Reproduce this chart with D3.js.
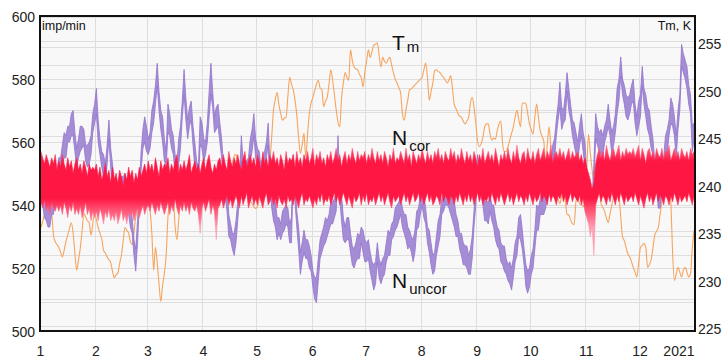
<!DOCTYPE html>
<html><head><meta charset="utf-8">
<script src="https://cdn.jsdelivr.net/npm/d3@7"></script>
<style>body{margin:0;background:#fff}svg{display:block}text{font-family:"Liberation Sans",Arial,sans-serif}</style>
</head><body><svg id="c" width="722" height="358"></svg>
<script>
// ---- data: daily values, 1 Jan 2020 .. 31 Dec 2020 ----
const monthLabels = ["1","2","3","4","5","6","7","8","9","10","11","12","2021"];
const leftTicks = [500,520,540,560,580,600];
const rightTicks = [225,230,235,240,245,250,255];

// N uncor (imp/min): daily maximum and minimum
const uncorMax = [
547,546,542,541,541,540,542,542,548,551, 555,555,559,563,562,565,565,569,570,563,
558,561,565,565,564,559,559,560,562,569, 572,577,567,561,557,556,553,559,567,558,
553,548,548,546,549,549,549,550,545,543, 540,536,529,526,535,546,557,564,568,565,
561,563,570,573,578,585,576,570,568,561, 557,572,569,564,562,556,553,561,565,573,
583,574,567,571,573,565,560,554,552,568, 566,561,560,566,576,585,576,568,571,572,
566,561,553,549,546,537,534,531,531,535, 541,549,562,554,549,554,555,561,564,569,
561,558,557,552,556,557,560,566,553,546, 541,541,536,536,534,538,539,540,539,534,
536,556,547,538,533,525,528,532,529,529, 527,524,519,517,517,523,529,531,533,536,
535,537,541,541,542,544,562,548,543,536, 533,536,536,531,527,526,528,531,530,533,
532,529,528,529,525,522,521,522,528,523, 521,523,524,528,532,531,534,535,539,540,
541,543,539,537,537,533,532,530,529,532, 538,539,543,548,543,539,533,532,528,524,
525,530,535,537,542,543,547,547,545,544, 541,541,537,535,531,531,528,527,527,524,
526,530,538,545,556,552,549,546,541,541, 541,543,540,540,536,533,532,528,527,527,
523,521,522,520,523,528,530,536,537,532, 526,521,519,520,524,526,532,540,539,542,
544,544,545,548,549,552,559,561,567,572, 579,571,570,575,582,577,572,567,566,563,
560,565,569,563,560,550,545,542,542,553, 569,565,563,564,562,565,567,572,567,563,
565,569,577,580,587,580,578,575,574,575, 578,580,572,568,573,575,584,577,575,571,
570,565,561,554,552,547,544,551,555,562, 564,567,574,572,568,562,570,575,591,588,
586,584,578,575,565,566];
const uncorMin = [
541,540,536,535,533,533,537,537,541,544, 549,549,553,555,555,560,560,562,562,557,
552,555,557,558,559,554,552,553,556,563, 566,569,560,556,552,549,546,553,561,552,
545,541,543,541,542,542,543,544,539,537, 533,531,524,519,528,540,551,558,560,557,
556,558,563,566,572,578,570,564,560,554, 552,563,562,558,556,550,547,553,558,568,
575,567,561,565,567,559,552,547,547,559, 558,554,556,560,568,575,571,563,564,565,
560,555,547,543,538,530,529,526,524,528, 535,543,554,546,542,549,550,554,557,562,
555,552,549,545,550,551,555,559,546,539, 535,533,529,531,529,531,532,534,533,528,
528,549,541,533,526,518,522,525,523,523, 520,519,514,510,509,516,523,525,527,528,
530,532,534,534,536,538,553,542,535,529, 528,529,529,525,521,520,522,523,523,528,
525,522,522,523,519,516,513,515,522,517, 515,517,518,522,524,524,529,530,532,533,
535,537,533,531,529,526,527,525,522,525, 532,533,537,540,536,534,528,525,521,518,
519,524,527,530,537,538,540,540,539,537, 535,533,530,530,526,524,521,521,520,518,
518,523,533,540,549,545,543,540,535,535, 534,538,535,533,529,527,526,522,521,519,
518,516,515,513,517,522,524,530,529,526, 521,514,512,514,518,520,526,532,532,537,
537,537,539,542,543,546,551,554,562,567, 571,564,566,567,576,570,567,562,559,556,
554,559,562,557,552,543,540,537,535,546, 561,559,557,556,555,560,562,565,562,556,
559,563,569,573,581,575,572,568,567,569, 572,573,566,562,565,568,578,572,568,564,
562,558,556,549,545,539,539,544,550,556, 557,562,566,565,562,555,564,570,584,582,
580,577,572,569,557,561];

// N cor (imp/min): daily maximum and minimum
const corMax = [
557,555,553,556,554,552,555,553,556,551, 554,552,556,553,551,555,552,554,550,553,
555,551,553,550,554,552,549,553,551,552, 551,553,549,552,548,550,553,549,551,547,
552,548,550,547,551,549,546,550,548,552, 549,551,547,550,548,552,549,551,553,550,
554,551,553,550,555,552,549,554,551,553, 552,555,550,553,551,554,556,550,553,551,
554,551,553,556,550,552,554,551,553,550, 553,555,551,554,556,552,550,553,551,554,
555,552,556,553,551,557,554,552,555,553, 556,553,551,555,557,552,554,556,553,555,
552,556,554,551,557,553,555,552,556,554, 557,553,555,552,556,554,551,557,553,555,
554,556,552,557,553,555,552,556,554,557, 553,555,558,552,556,554,557,553,555,552,
556,554,557,553,555,558,554,556,552,555, 557,553,556,554,558,555,553,557,554,556,
555,557,553,556,554,558,555,553,557,554, 556,553,557,555,552,556,554,558,553,555,
554,557,555,553,558,554,556,552,557,555, 553,556,554,558,555,553,557,554,556,553,
557,555,558,554,556,553,557,555,554,558, 555,557,553,556,554,558,555,553,557,554,
556,553,557,555,552,556,554,558,553,555, 557,554,556,553,558,555,552,556,554,557,
554,558,555,553,557,554,559,555,553,556, 557,553,558,555,554,557,553,556,558,554,
556,558,554,557,555,559,553,556,557,555, 558,555,557,554,556,558,554,557,555,556,
557,554,556,553,555,552,550,548,545,547, 553,556,558,555,557,554,559,556,554,557,
558,555,557,559,554,557,555,558,556,557, 556,558,555,557,559,554,558,556,553,557,
558,555,557,554,558,556,555,558,554,557, 557,559,554,556,558,555,557,554,558,556,
555,557,554,558,556,557];
const corMin = [
541,539,542,538,540,537,541,539,538,540, 538,540,537,541,539,536,540,538,541,537,
539,537,540,536,538,541,537,539,535,538, 536,538,535,539,537,534,538,536,539,535,
537,535,538,534,536,539,535,537,534,538, 536,538,535,537,539,536,538,540,537,539,
540,538,541,539,537,540,538,541,539,537, 539,541,537,540,538,542,539,537,540,538,
541,538,540,537,541,539,538,540,537,531, 539,541,538,540,542,537,540,538,529,539,
540,542,539,541,543,540,542,539,541,543, 541,539,543,540,542,544,539,541,543,540,
542,540,543,541,539,542,544,540,541,543, 540,542,539,543,541,540,542,539,543,541,
542,540,543,541,539,542,544,540,542,541, 543,541,539,542,540,543,541,544,540,542,
541,543,540,542,544,541,543,540,542,544, 542,540,543,541,539,543,541,542,544,540,
543,541,544,540,542,541,543,540,542,544, 541,543,540,542,544,541,539,543,541,542,
543,540,542,544,541,543,540,542,544,541, 542,544,541,543,540,542,544,541,543,540,
541,543,542,540,544,541,543,542,540,543, 542,540,543,541,544,542,540,543,541,544,
541,543,540,542,544,541,543,540,542,541, 543,541,544,542,540,543,541,544,542,540,
542,544,541,543,540,542,544,541,543,542, 540,543,541,544,542,540,543,541,542,544,
541,543,542,540,544,541,543,542,540,543, 542,544,541,543,540,542,544,541,543,542,
541,543,540,542,538,536,534,530,533,524, 540,542,544,541,543,542,540,543,541,544,
542,540,543,541,544,542,540,543,541,542, 543,541,544,542,540,543,541,539,542,544,
541,543,540,542,544,541,543,542,540,543, 542,540,543,541,544,542,540,543,541,542,
543,541,544,542,540,543];

// Tm (K): daily values
const tm = [
235.4,236.0,236.8,237.4,237.2,236.6,236.9,234.6,233.9,233.6, 233.3,232.8,232.3,233.0,233.9,234.6,235.3,235.9,234.8,232.7,
230.9,232.0,233.2,235.0,236.9,236.5,236.1,235.9,234.6,235.8, 236.9,236.2,235.4,234.8,234.2,233.0,232.7,232.3,232.0,231.7,
230.8,230.1,230.4,230.6,231.6,232.5,234.0,235.4,235.1,234.8, 233.9,233.6,234.8,236.5,237.0,237.4,237.8,238.2,239.0,238.7,
238.6,237.2,234.8,230.9,233.3,231.7,229.5,227.6,229.3,230.6, 232.5,236.5,238.0,238.4,238.3,235.5,234.1,236.2,238.2,238.5,
238.6,238.8,239.3,239.9,240.6,241.8,240.4,241.2,240.8,240.6, 240.1,239.9,240.5,240.9,241.3,240.9,240.2,240.4,240.0,239.6,
239.3,240.1,240.6,240.9,241.2,241.0,241.4,242.2,242.9,243.1, 242.0,241.4,240.8,240.3,239.7,239.2,238.8,238.3,237.9,237.6,
237.4,237.6,238.3,239.0,239.3,240.0,240.9,241.6,242.5,245.0, 247.8,248.9,249.6,248.3,247.4,246.7,246.9,247.0,249.2,251.2,
250.5,249.9,248.8,247.2,244.9,243.2,244.1,245.3,242.8,245.2, 247.4,248.5,249.1,249.8,250.5,250.9,250.1,249.9,248.1,248.7,
249.1,250.5,252.0,250.9,249.4,247.8,246.5,246.0,249.0,250.6, 251.7,251.2,250.9,254.1,253.0,252.3,252.1,252.0,251.5,251.2,
250.2,251.7,252.9,254.1,253.3,253.9,254.6,254.7,254.8,253.5, 252.3,253.3,252.9,252.7,253.1,253.3,252.5,251.7,251.0,250.6,
250.1,249.6,247.4,246.7,247.8,248.8,249.9,250.0,250.2,250.4, 250.6,250.8,251.0,251.2,252.0,252.7,251.2,248.8,249.7,250.6,
251.9,252.0,251.8,251.7,251.4,251.2,250.9,250.6,250.9,251.4, 250.0,248.3,247.9,247.4,247.1,247.0,246.6,246.3,246.6,247.0,
248.5,249.1,248.1,246.4,244.5,243.9,244.2,244.9,246.0,246.3, 246.3,245.2,244.6,244.8,244.7,245.6,246.3,246.6,244.2,243.4,
243.4,243.9,244.6,245.3,246.0,247.0,247.7,246.8,246.0,248.5, 248.5,248.4,247.4,246.3,245.7,245.2,247.0,248.4,247.0,245.6,
245.0,244.5,242.1,244.2,246.0,243.6,241.3,239.8,238.9,238.4, 237.9,238.8,239.7,238.3,236.8,236.7,236.2,235.8,235.7,238.2,
238.6,237.9,237.8,237.6,238.2,241.5,245.2,243.2,241.5,239.9, 238.2,238.7,239.2,237.9,237.5,237.1,236.4,235.9,236.8,237.7,
238.6,238.2,238.8,238.6,236.5,234.4,234.0,233.3,232.6,232.3, 231.8,231.2,230.7,230.2,231.6,233.3,233.5,233.7,233.3,231.2,
231.5,232.0,233.2,234.6,235.0,235.4,236.8,238.2,239.2,240.3, 240.7,241.0,238.2,232.6,229.8,230.5,231.2,230.7,230.2,230.9,
231.2,230.7,230.2,230.5,233.3,235.1];

// ---- layout ----
const L = 40, R = 695, T = 16, B = 331;
const svg = d3.select("#c");
const x = d3.scaleTime().domain([new Date(2020,0,1), new Date(2021,0,1)]).range([L, R]);
const yL = d3.scaleLinear().domain([500,600]).range([B, T]);
const yR = d3.scaleLinear().domain([224.5,257.66]).range([B, T]);
const day = i => new Date(2020,0,1+i,12);
const months = d3.range(13).map(m => new Date(2020, m, 1));

const defs = svg.append("defs");
// vertical colour fade for the N cor band (solid core, lighter fringes)
const gTop = 561, gBot = 533;
const grad = defs.append("linearGradient").attr("id","corGrad").attr("gradientUnits","userSpaceOnUse")
  .attr("x1",0).attr("x2",0).attr("y1",yL(gTop)).attr("y2",yL(gBot));
[[561,"#ff9bb0"],[557,"#ff4a6c"],[554,"#ff1744"],[542,"#ff1744"],[539,"#ff4a6c"],[533,"#ff9bb0"]]
  .forEach(([v,c])=>grad.append("stop").attr("offset",(gTop-v)/(gTop-gBot)).attr("stop-color",c));

svg.append("rect").attr("x",L).attr("y",T).attr("width",R-L).attr("height",B-T).attr("fill","#f8f8f8");

// grid
const g = svg.append("g").attr("stroke","#dedede").attr("stroke-width",1).attr("shape-rendering","crispEdges");
g.selectAll(".gl").data(d3.range(500,601,10)).join("line")
  .attr("x1",L).attr("x2",R).attr("y1",d=>yL(d)).attr("y2",d=>yL(d));
g.selectAll(".gr").data(d3.range(225,257.6,2.5)).join("line")
  .attr("x1",L).attr("x2",R).attr("y1",d=>yR(d)).attr("y2",d=>yR(d));
g.selectAll(".gv").data(months).join("line")
  .attr("y1",T).attr("y2",B).attr("x1",d=>x(d)).attr("x2",d=>x(d));

defs.append("clipPath").attr("id","clip").append("rect").attr("x",L).attr("y",T).attr("width",R-L).attr("height",B-T);
const plot = svg.append("g").attr("clip-path","url(#clip)");

const lineR = d3.line().x((d,i)=>x(day(i))).y(d=>yR(d)).curve(d3.curveMonotoneX);
const band = (hi, lo) => d3.area().x((d,i)=>x(day(i))).y0((d,i)=>yL(lo[i])).y1((d,i)=>yL(hi[i]))(hi);

plot.append("path").datum(tm).attr("d",lineR).attr("fill","none").attr("stroke","#f6a45e").attr("stroke-width",1.1);
plot.append("path").attr("d",band(uncorMax,uncorMin)).attr("fill","#a58dd6").attr("stroke","#9272cb").attr("stroke-width",0.8);
plot.append("path").attr("d",band(corMax,corMin)).attr("fill","url(#corGrad)").attr("stroke","url(#corGrad)").attr("stroke-width",0.6);

// frame
svg.append("rect").attr("x",L).attr("y",T).attr("width",R-L).attr("height",B-T)
  .attr("fill","none").attr("stroke","#111").attr("stroke-width",2);

// axes
const axL = svg.append("g").attr("transform",`translate(${L},0)`)
  .call(d3.axisLeft(yL).tickValues(leftTicks).tickSize(0).tickPadding(5));
const axR = svg.append("g").attr("transform",`translate(${R},0)`)
  .call(d3.axisRight(yR).tickValues(rightTicks).tickSize(0).tickPadding(3));
const axB = svg.append("g").attr("transform",`translate(0,${B})`)
  .call(d3.axisBottom(x).tickValues(months).tickFormat((d,i)=>monthLabels[i]).tickSize(0).tickPadding(15));
[axL,axR,axB].forEach(a=>{a.select(".domain").remove();
  a.selectAll("text").attr("font-size",14).attr("fill","#222").attr("font-family","Liberation Sans, Arial, sans-serif");});
axL.selectAll("text").attr("dy","0.42em");
axR.selectAll("text").attr("dy","0.55em");
axB.selectAll("text").filter((d,i)=>i===12).attr("text-anchor","end").attr("dx","-1");

// labels
svg.append("text").attr("x",42).attr("y",30).attr("font-size",12.5).attr("fill","#111").text("imp/min");
svg.append("text").attr("x",691).attr("y",30).attr("font-size",12.5).attr("fill","#111").attr("text-anchor","end").text("Tm, K");

function ann(xp, yp, main, sub, dy) {
  const t = svg.append("text").attr("x",xp).attr("y",yp).attr("fill","#111").attr("font-size",21);
  t.append("tspan").text(main);
  t.append("tspan").attr("font-size",15).attr("dy",dy).attr("dx",2).text(sub);
}
ann(392,50,"T","m",2);
ann(392,145,"N","cor",6);
ann(392,288,"N","uncor",6);
</script></body></html>
